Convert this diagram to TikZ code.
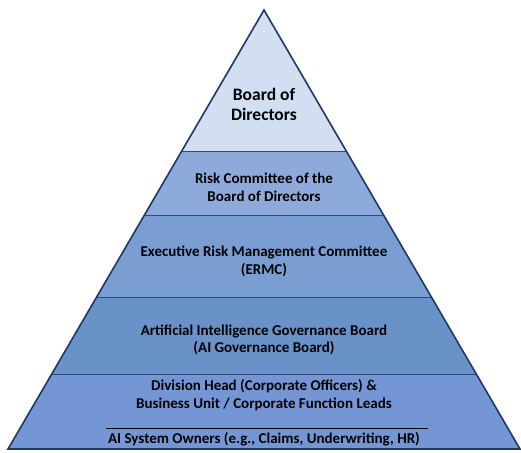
\documentclass[tikz,border=0pt]{standalone}
\usepackage{fontspec}
\setmainfont{Carlito}
\begin{document}
\begin{tikzpicture}[x=1pt,y=-1pt,
    tier/.style={draw=sepblue, line width=0.8pt},
    lbl/.style={font=\bfseries\fontsize{15}{17.5}\selectfont, align=center, text=black, inner sep=0pt},
    toplbl/.style={lbl, font=\bfseries\fontsize{17.5}{20}\selectfont}]
  \definecolor{navy}{HTML}{1F3864}
  \definecolor{sepblue}{HTML}{2E4A7A}
  \definecolor{tierA}{HTML}{D2DEF1}
  \definecolor{tierB}{HTML}{8EAADB}
  \definecolor{tierC}{HTML}{7A9ED2}
  \definecolor{tierD}{HTML}{6892C8}
  \definecolor{tierE}{HTML}{7496D4}
  \useasboundingbox (0,0) rectangle (521,452);
  % corners of the pyramid
  \coordinate (apex) at (264,10);
  \coordinate (bl) at (8,449);
  \coordinate (br) at (520,449);
  % tiers, top to bottom
  \fill[tierA] (apex) -- (346.2,151) -- (181.8,151) -- cycle;
  \fill[tierB] (181.8,151) -- (346.2,151) -- (383.5,215) -- (144.5,215) -- cycle;
  \fill[tierC] (144.5,215) -- (383.5,215) -- (431.3,297) -- (96.7,297) -- cycle;
  \fill[tierD] (96.7,297) -- (431.3,297) -- (476.3,374) -- (51.7,374) -- cycle;
  \fill[tierE] (51.7,374) -- (476.3,374) -- (br) -- (bl) -- cycle;
  \draw[tier] (181.8,151) -- (346.2,151);
  \draw[tier] (144.5,215) -- (383.5,215);
  \draw[tier] (96.7,297) -- (431.3,297);
  \draw[tier] (51.7,374) -- (476.3,374);
  \draw[navy, line width=1.6pt, line join=miter] (apex) -- (br) -- (bl) -- cycle;
  % labels
  \node[toplbl] (board) at (264,104) {Board of\\Directors};
  \node[lbl] (risk) at (264,187.5) {Risk Committee of the\\Board of Directors};
  \node[lbl] (ermc) at (264,261.5) {Executive Risk Management Committee\\(ERMC)};
  \node[lbl] (aigb) at (264,340) {Artificial Intelligence Governance Board\\(AI Governance Board)};
  \node[lbl] (divhead) at (264,395) {Division Head (Corporate Officers) \&\\Business Unit / Corporate Function Leads};
  \coordinate (rulel) at (106,428);
  \coordinate (ruler) at (428,428);
  \draw[black, line width=0.7pt] (rulel) -- (ruler);
  \node[lbl] (owners) at (264,439) {AI System Owners (e.g., Claims, Underwriting, HR)};
\end{tikzpicture}
\end{document}
